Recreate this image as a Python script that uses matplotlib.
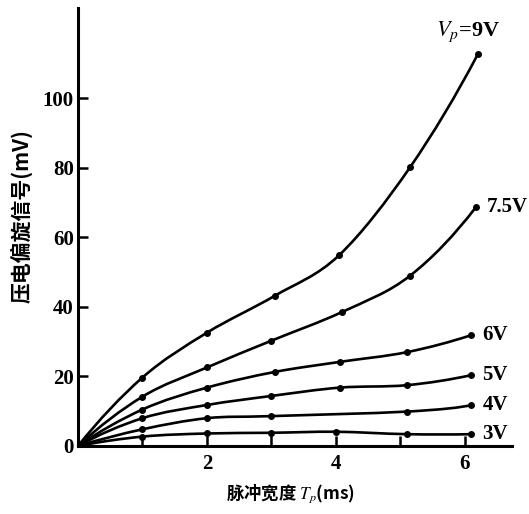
import matplotlib
matplotlib.use("Agg")
import matplotlib.pyplot as plt
from matplotlib.path import Path
from matplotlib.patches import PathPatch

plt.rcParams['mathtext.fontset'] = 'stix'
plt.rcParams['font.family'] = ['Liberation Serif', 'Noto Sans CJK SC', 'DejaVu Sans']

# pulse width (ms) and signal (mV); curves start at origin
x_9v = [0, 1.0, 2.0, 3.05, 4.05, 5.15, 6.2]
y_9v = [0, 19.7, 32.6, 43.2, 54.9, 80.2, 112.7]
x_75v = [0, 1.0, 2.0, 3.0, 4.1, 5.15, 6.17]
y_75v = [0, 14.2, 22.6, 30.3, 38.6, 49.0, 68.7]
x_6v = [0, 1.0, 2.0, 3.05, 4.06, 5.1, 6.1]
y_6v = [0, 10.5, 16.8, 21.3, 24.2, 27.0, 31.9]
x_5v = [0, 1.0, 2.0, 3.0, 4.06, 5.1, 6.1]
y_5v = [0, 8.0, 11.8, 14.4, 16.8, 17.5, 20.4]
x_4v = [0, 1.0, 2.0, 3.0, 5.1, 6.1]
y_4v = [0, 4.8, 8.0, 8.6, 9.9, 11.8]
x_3v = [0, 1.0, 2.0, 3.0, 4.0, 5.1, 6.1]
y_3v = [0, 2.7, 3.6, 3.8, 4.1, 3.4, 3.4]

series = [(x_9v, y_9v), (x_75v, y_75v), (x_6v, y_6v),
          (x_5v, y_5v), (x_4v, y_4v), (x_3v, y_3v)]
labels = [r"$V_p$=9V", "7.5V", "6V", "5V", "4V", "3V"]


def smooth_path(xs, ys):
    # catmull-rom through the points as cubic bezier segments,
    # end tangents taken from a parabola through the last three points
    n = len(xs)
    tx, ty = [], []
    for i in range(n):
        if i == 0:
            tx.append((-3 * xs[0] + 4 * xs[1] - xs[2]) / 2)
            ty.append((-3 * ys[0] + 4 * ys[1] - ys[2]) / 2)
        elif i == n - 1:
            tx.append((3 * xs[-1] - 4 * xs[-2] + xs[-3]) / 2)
            ty.append((3 * ys[-1] - 4 * ys[-2] + ys[-3]) / 2)
        else:
            tx.append((xs[i + 1] - xs[i - 1]) / 2)
            ty.append((ys[i + 1] - ys[i - 1]) / 2)
    verts = [(xs[0], ys[0])]
    codes = [Path.MOVETO]
    for i in range(n - 1):
        verts += [(xs[i] + tx[i] / 3, ys[i] + ty[i] / 3),
                  (xs[i + 1] - tx[i + 1] / 3, ys[i + 1] - ty[i + 1] / 3),
                  (xs[i + 1], ys[i + 1])]
        codes += [Path.CURVE4] * 3
    return Path(verts, codes)


fig = plt.figure(figsize=(5.29, 5.14), dpi=100)
ax = fig.add_axes([0.1474, 0.1323, 0.8204, 0.852])

for (xs, ys), lab in zip(series, labels):
    ax.add_patch(PathPatch(smooth_path(xs, ys), fill=False, ec='black', lw=1.9))
    ax.plot(xs[1:], ys[1:], 'o', color='black', ms=4)
    if lab.startswith('$'):
        ax.annotate(lab, (xs[-1], ys[-1]), xytext=(-30, 16), textcoords='offset points',
                    fontsize=16, fontweight='bold', va='center')
    else:
        ax.annotate(lab, (xs[-1], ys[-1]), xytext=(8, 0), textcoords='offset points',
                    fontsize=15, fontweight='bold', va='center')

ax.set_xlim(0, 6.73)
ax.set_ylim(0, 126)
for s in ['top', 'right']:
    ax.spines[s].set_visible(False)
for s in ['left', 'bottom']:
    ax.spines[s].set_linewidth(2.2)

ax.set_xticks([2, 4, 6])
ax.set_xticks([1, 3, 5], minor=True)
ax.set_yticks([0, 20, 40, 60, 80, 100])
ax.tick_params(direction='in', length=7, width=1.8, labelsize=15)
ax.tick_params(which='minor', direction='in', length=7, width=1.8)
for t in ax.get_xticklabels() + ax.get_yticklabels():
    t.set_fontweight('bold')
ax.tick_params(axis='y', pad=3)
ax.tick_params(axis='x', pad=6)

fig.text(0.55, 0.04, "脉冲宽度 $T_p$(ms)", ha='center', va='center', fontsize=12.5,
         fontweight='bold', family=['Noto Sans CJK SC', 'DejaVu Sans'])
fig.text(0.04, 0.58, "压电偏旋信号(mV)", ha='center', va='center', rotation=90,
         fontsize=15, fontweight='bold', family=['Noto Sans CJK SC', 'DejaVu Sans'])

fig.savefig("out.png", dpi=100)
